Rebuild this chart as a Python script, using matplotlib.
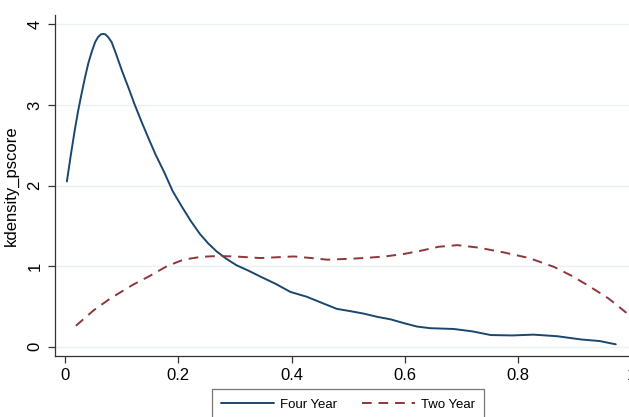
import matplotlib
matplotlib.use("Agg")
import matplotlib.pyplot as plt

four_x = [0.003, 0.010, 0.017, 0.023, 0.029, 0.035, 0.041, 0.047, 0.053, 0.058, 0.063, 0.067,
          0.071, 0.076, 0.082, 0.090, 0.100, 0.112,
          0.123, 0.135, 0.147, 0.160, 0.176, 0.190, 0.206, 0.222, 0.238, 0.253, 0.268, 0.285,
          0.303, 0.325, 0.345, 0.372, 0.398, 0.427, 0.455, 0.480, 0.505, 0.528, 0.552, 0.575,
          0.600, 0.622, 0.645, 0.687, 0.720, 0.752, 0.790, 0.828, 0.870, 0.912, 0.945, 0.973]
four_y = [2.05, 2.38, 2.69, 2.93, 3.14, 3.34, 3.52, 3.66, 3.78, 3.84, 3.875, 3.88,
          3.875, 3.84, 3.78, 3.63, 3.43, 3.21,
          3.00, 2.79, 2.59, 2.38, 2.15, 1.93, 1.74, 1.56, 1.40, 1.28, 1.18, 1.09,
          1.01, 0.94, 0.87, 0.78, 0.68, 0.62, 0.54, 0.47, 0.44, 0.41, 0.37, 0.34,
          0.29, 0.25, 0.23, 0.22, 0.19, 0.145, 0.14, 0.15, 0.13, 0.09, 0.07, 0.03]

two_x = [0.019, 0.05, 0.08, 0.12, 0.15, 0.18, 0.209, 0.24, 0.268, 0.30, 0.345, 0.375,
         0.404, 0.435, 0.463, 0.50, 0.528, 0.565, 0.598, 0.628, 0.660, 0.693, 0.73, 0.775,
         0.82, 0.864, 0.895, 0.924, 0.96, 0.992]
two_y = [0.26, 0.45, 0.60, 0.77, 0.88, 1.00, 1.08, 1.115, 1.125, 1.12, 1.10, 1.11,
         1.12, 1.10, 1.08, 1.09, 1.10, 1.12, 1.15, 1.19, 1.24, 1.26, 1.23, 1.17,
         1.10, 0.99, 0.88, 0.76, 0.60, 0.42]

series_labels = ["Four Year", "Two Year"]
x_ticks = [0, 0.2, 0.4, 0.6, 0.8, 1]
x_tick_labels = ["0", "0.2", "0.4", "0.6", "0.8", "1"]
y_ticks = [0, 1, 2, 3, 4]
y_label = "kdensity_pscore"

plt.rcParams['font.family'] = ['Liberation Sans', 'DejaVu Sans']

fig = plt.figure(figsize=(6.29, 4.17), dpi=100)
ax = fig.add_axes([55/629, 61/417, 576/629, (356-15)/417])

ax.plot(four_x, four_y, color="#1a476f", lw=1.4, label=series_labels[0], solid_capstyle="round")
ax.plot(two_x, two_y, color="#90353b", lw=1.4, ls=(0, (5, 3.5)), label=series_labels[1])

ax.set_xlim(-0.018, 1.0)
ax.set_ylim(-0.115, 4.115)
ax.set_xticks(x_ticks)
ax.set_xticklabels(x_tick_labels)
ax.set_yticks(y_ticks)
ax.set_yticklabels([str(v) for v in y_ticks], rotation=90, va="center")
ax.grid(axis="y", color="#eaf2f3", lw=1.0)
ax.set_axisbelow(True)
for s in ["top", "right"]:
    ax.spines[s].set_visible(False)
for s in ["left", "bottom"]:
    ax.spines[s].set_color("#333333")
    ax.spines[s].set_linewidth(0.9)
ax.tick_params(direction="out", length=5, width=0.9, color="#333333", labelsize=12, pad=4)
ax.set_ylabel(y_label, fontsize=12, labelpad=6)

leg = fig.legend(loc="upper center", bbox_to_anchor=(348/629, 28/417), ncol=2,
                 fontsize=9.5, handlelength=4.0, frameon=True, fancybox=False,
                 edgecolor="#555555", borderpad=0.72, borderaxespad=0.0,
                 columnspacing=1.9, handletextpad=0.45)
leg.get_frame().set_linewidth(0.9)

fig.savefig("out.png", dpi=100)
